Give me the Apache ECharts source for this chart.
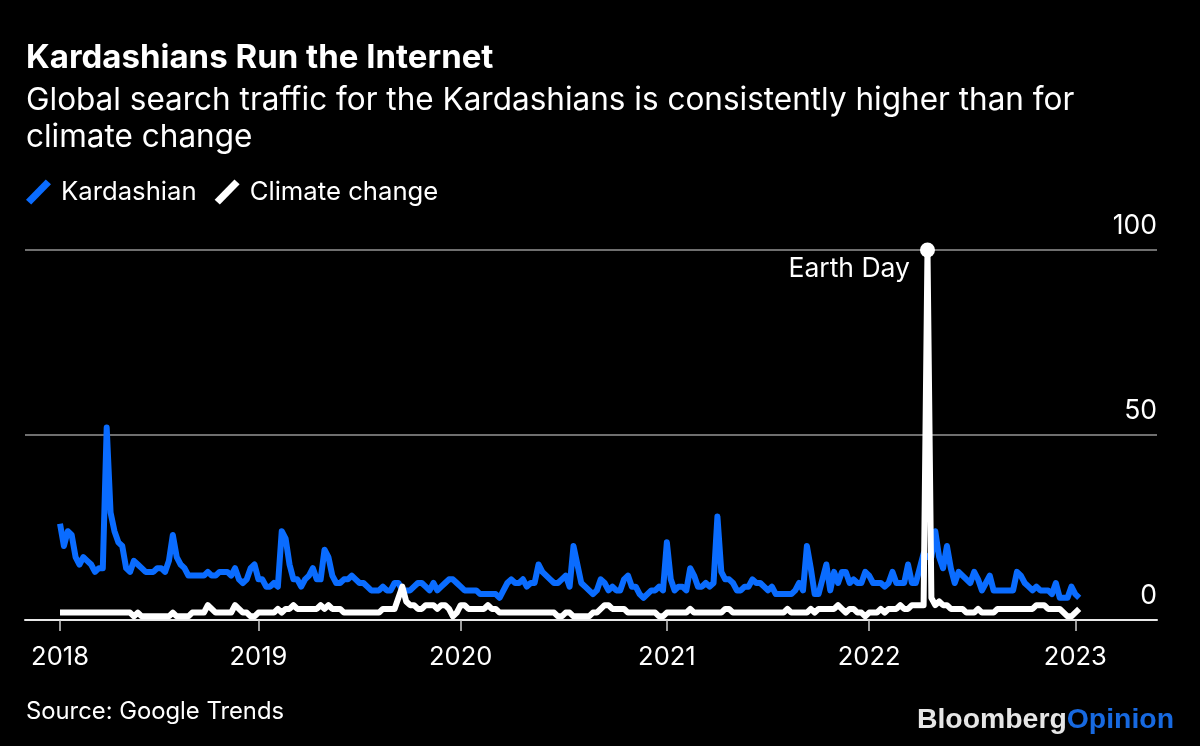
<!DOCTYPE html>
<html>
<head>
<meta charset="utf-8">
<style>
html, body { margin: 0; padding: 0; background: #000; }
#chart { width: 1200px; height: 746px; }
</style>
<script src="https://cdn.jsdelivr.net/npm/echarts@6/dist/echarts.min.js"></script>
</head>
<body>
<div id="chart"></div>
<script>
// weekly values
var kardashian = [
    26, 20, 24, 23, 17, 15, 17, 16, 15, 13,
    14, 14, 52, 29, 24, 21, 20, 14, 13, 16,
    15, 14, 13, 13, 13, 14, 14, 13, 16, 23,
    17, 15, 14, 12, 12, 12, 12, 12, 13, 12,
    12, 13, 13, 13, 12, 14, 11, 10, 11, 14,
    15, 11, 11, 9, 9, 10, 9, 24, 22, 15,
    11, 11, 9, 11, 12, 14, 11, 11, 19, 17,
    12, 10, 10, 11, 11, 12, 11, 10, 10, 9,
    8, 8, 8, 9, 8, 8, 10, 10, 8, 8,
    8, 9, 10, 10, 9, 8, 10, 8, 9, 10,
    11, 11, 10, 9, 8, 8, 8, 8, 7, 7,
    7, 7, 7, 6, 8, 10, 11, 10, 10, 11,
    9, 10, 10, 15, 13, 12, 11, 10, 10, 11,
    12, 9, 20, 15, 10, 9, 8, 7, 8, 11,
    10, 8, 9, 8, 8, 11, 12, 9, 9, 7,
    6, 7, 8, 8, 9, 8, 21, 11, 8, 9,
    9, 8, 14, 12, 9, 9, 10, 9, 10, 28,
    13, 11, 11, 10, 8, 8, 9, 9, 11, 10,
    10, 9, 8, 9, 7, 7, 7, 7, 7, 8,
    10, 8, 20, 14, 7, 7, 11, 15, 8, 13,
    10, 13, 13, 10, 11, 10, 10, 13, 12, 10,
    10, 10, 9, 10, 13, 10, 10, 10, 15, 10,
    10, 14, 18, 17, 17, 24, 17, 14, 20, 14,
    10, 13, 12, 11, 10, 13, 11, 8, 10, 12,
    8, 8, 8, 8, 8, 8, 13, 12, 10, 9,
    8, 9, 8, 8, 8, 7, 10, 6, 6, 6,
    9, 7, 6
];
var climate = [
    2, 2, 2, 2, 2, 2, 2, 2, 2, 2,
    2, 2, 2, 2, 2, 2, 2, 2, 2, 1,
    2, 1, 1, 1, 1, 1, 1, 1, 1, 2,
    1, 1, 1, 1, 2, 2, 2, 2, 4, 3,
    2, 2, 2, 2, 2, 4, 3, 2, 2, 1,
    1, 2, 2, 2, 2, 2, 3, 2, 3, 3,
    4, 3, 3, 3, 3, 3, 3, 4, 3, 4,
    3, 3, 3, 2, 2, 2, 2, 2, 2, 2,
    2, 2, 2, 3, 3, 3, 3, 6, 9, 5,
    4, 4, 3, 3, 4, 4, 4, 3, 4, 4,
    3, 1, 2, 4, 4, 3, 3, 3, 3, 3,
    4, 3, 3, 2, 2, 2, 2, 2, 2, 2,
    2, 2, 2, 2, 2, 2, 2, 2, 1, 1,
    2, 2, 1, 1, 1, 1, 1, 2, 2, 3,
    4, 4, 3, 3, 3, 3, 2, 2, 2, 2,
    2, 2, 2, 2, 1, 1, 2, 2, 2, 2,
    2, 2, 3, 2, 2, 2, 2, 2, 2, 2,
    2, 3, 3, 2, 2, 2, 2, 2, 2, 2,
    2, 2, 2, 2, 2, 2, 2, 3, 2, 2,
    2, 2, 2, 3, 2, 3, 3, 3, 3, 3,
    4, 3, 2, 3, 3, 2, 2, 1, 2, 2,
    2, 3, 2, 3, 3, 3, 4, 3, 3, 4,
    4, 4, 4, 100, 6, 4, 5, 4, 4, 3,
    3, 3, 3, 2, 2, 2, 3, 2, 2, 2,
    2, 3, 3, 3, 3, 3, 3, 3, 3, 3,
    3, 4, 4, 4, 3, 3, 3, 3, 2, 1,
    1, 2, 3
];
var yearLabels = ['2018', '2019', '2020', '2021', '2022', '2023'];
var yearWeeks = [0, 51, 103, 156, 208, 261];
var yTicks = [0, 50, 100];
var earthDayWeek = 223;

var font = 'Inter, "Liberation Sans", Arial, sans-serif';
var logoFont = '"Liberation Sans", Arial, sans-serif';
var blue = '#0a6cff';

// empty weeks on both sides so the axis runs past the data
var padLeft = 9, padRight = 20;
var categories = [];
for (var i = 0; i < padLeft + kardashian.length + padRight; i++) {
    var y = yearWeeks.indexOf(i - padLeft);
    categories.push(y >= 0 ? yearLabels[y] : '');
}
function pad(values) {
    return new Array(padLeft).fill(null).concat(values, new Array(padRight).fill(null));
}
function isYear(index, value) {
    return value !== '';
}

var slash = 'path://M19,0 L24,4.5 L5,24 L0,19.5 Z';

var myChart = echarts.init(document.getElementById('chart'), null, { renderer: 'canvas' });
var option = {
    backgroundColor: '#000',
    animation: false,
    title: [{
        text: 'Kardashians Run the Internet',
        left: 21, top: 37,
        textStyle: { color: '#fff', fontFamily: font, fontWeight: 'bold', fontSize: 33 }
    }, {
        text: 'Global search traffic for the Kardashians is consistently higher than for\nclimate change',
        left: 21, top: 77,
        textStyle: { color: '#fff', fontFamily: font, fontWeight: 'normal', fontSize: 31.5, lineHeight: 37 }
    }, {
        text: 'Source: Google Trends',
        left: 21, top: 695,
        textStyle: { color: '#fff', fontFamily: font, fontWeight: 'normal', fontSize: 23.8 }
    }, {
        text: '{a|Bloomberg}{b|Opinion}',
        right: 21, top: 701,
        textStyle: {
            fontFamily: logoFont,
            rich: {
                a: { color: '#e6e6e6', fontFamily: logoFont, fontWeight: 'bold', fontSize: 28.4 },
                b: { color: '#1769e0', fontFamily: logoFont, fontWeight: 'bold', fontSize: 28.4 }
            }
        }
    }],
    legend: {
        left: 21, top: 174,
        itemWidth: 25, itemHeight: 25, itemGap: 18,
        data: [
            { name: 'Kardashian', icon: slash, itemStyle: { color: blue } },
            { name: 'Climate change', icon: slash, itemStyle: { color: '#fff' } }
        ],
        textStyle: { color: '#fff', fontFamily: font, fontSize: 25.7, padding: [0, 0, 0, 5] }
    },
    grid: { left: 25, right: 43, top: 250, bottom: 126 },
    xAxis: {
        type: 'category',
        boundaryGap: false,
        data: categories,
        axisLine: { lineStyle: { color: '#e8e8e8', width: 2 } },
        axisTick: { interval: isYear, length: 11, lineStyle: { color: '#d0d0d0', width: 1.5 } },
        axisLabel: { interval: isYear, color: '#fff', fontFamily: font, fontSize: 25.5, margin: 24 },
        splitLine: { show: false }
    },
    yAxis: {
        type: 'value',
        position: 'right',
        min: yTicks[0], max: yTicks[2], interval: yTicks[1],
        axisLine: { show: false },
        axisTick: { show: false },
        axisLabel: {
            inside: true, margin: 0,
            color: '#fff', fontFamily: font, fontSize: 26.5,
            verticalAlign: 'bottom', padding: [0, 0, 10, 0]
        },
        splitLine: { lineStyle: { color: '#6f6f6f', width: 2 } }
    },
    series: [{
        name: 'Kardashian',
        type: 'line',
        data: pad(kardashian),
        symbol: 'none',
        clip: false,
        lineStyle: { color: blue, width: 6, join: 'round' },
        itemStyle: { color: blue }
    }, {
        name: 'Climate change',
        type: 'line',
        data: pad(climate),
        symbol: 'none',
        clip: false,
        lineStyle: { color: '#fff', width: 6, join: 'round' },
        itemStyle: { color: '#fff' },
        markPoint: {
            symbol: 'circle',
            symbolSize: 15,
            itemStyle: { color: '#fff' },
            label: {
                show: true,
                formatter: 'Earth Day',
                color: '#fff',
                fontFamily: font,
                fontSize: 26.5,
                position: 'left',
                offset: [-5, 19]
            },
            data: [{ xAxis: earthDayWeek + padLeft, yAxis: climate[earthDayWeek] }]
        }
    }]
};
myChart.setOption(option);
</script>
</body>
</html>
